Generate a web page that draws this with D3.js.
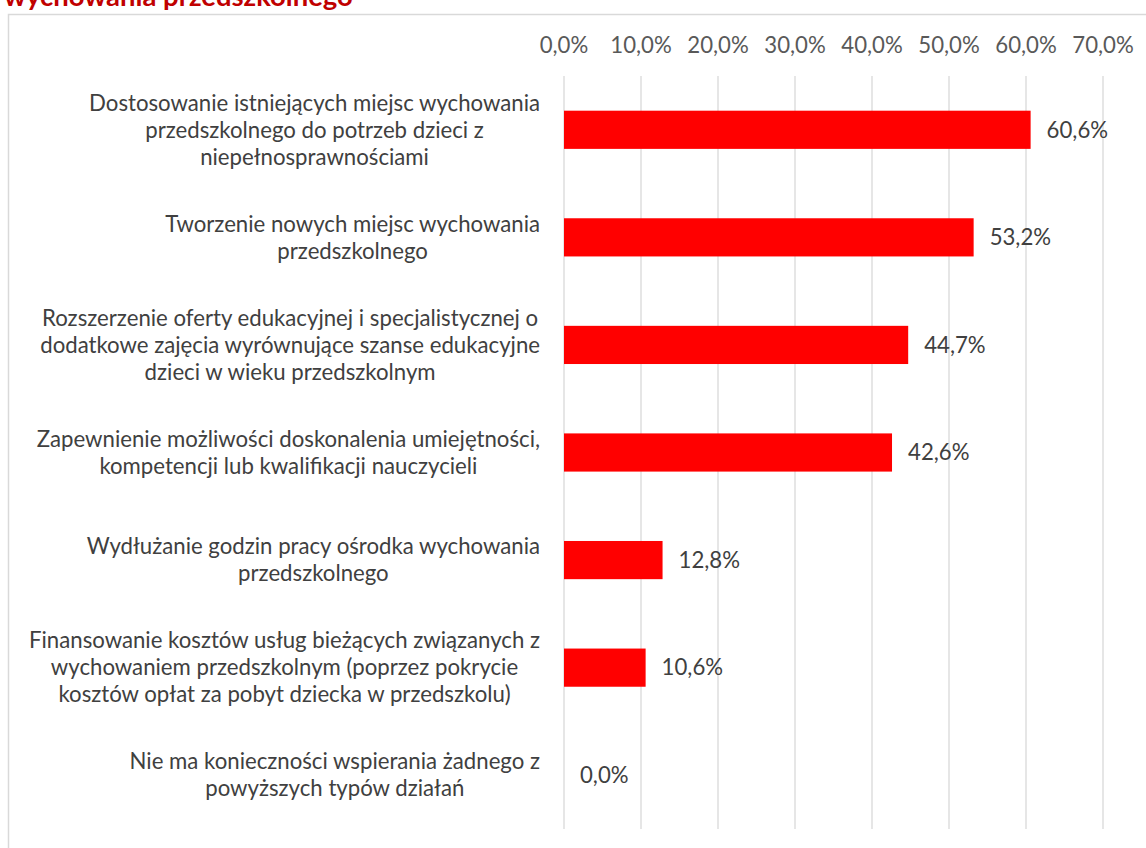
<!DOCTYPE html>
<html>
<head>
<meta charset="utf-8">
<script src="https://cdn.jsdelivr.net/npm/d3@7"></script>
<style>
  html, body { margin: 0; padding: 0; background: #fff; }
  svg { display: block; }
</style>
</head>
<body>
<div id="chart"></div>
<script>
// Data
const titleText = 'wychowania przedszkolnego';
const categories = [
    ['Dostosowanie istniejących miejsc wychowania', 'przedszkolnego do potrzeb dzieci z', 'niepełnosprawnościami'],
    ['Tworzenie nowych miejsc wychowania', 'przedszkolnego'],
    ['Rozszerzenie oferty edukacyjnej i specjalistycznej o', 'dodatkowe zajęcia wyrównujące szanse edukacyjne', 'dzieci w wieku przedszkolnym'],
    ['Zapewnienie możliwości doskonalenia umiejętności,', 'kompetencji lub kwalifikacji nauczycieli'],
    ['Wydłużanie godzin pracy ośrodka wychowania', 'przedszkolnego'],
    ['Finansowanie kosztów usług bieżących związanych z', 'wychowaniem przedszkolnym (poprzez pokrycie', 'kosztów opłat za pobyt dziecka w przedszkolu)'],
    ['Nie ma konieczności wspierania żadnego z', 'powyższych typów działań']
];
const values = [60.6, 53.2, 44.7, 42.6, 12.8, 10.6, 0.0];
const tickValues = [0, 10, 20, 30, 40, 50, 60, 70];

const W = 1146, H = 848;
const fontFamily = 'Lato, "Open Sans", sans-serif';

const svg = d3.select('#chart')
    .append('svg')
    .attr('width', W)
    .attr('height', H);

// Fit a font size so a text gets the width seen in the picture
function fitSize(str, target, weight) {
    const probe = svg.append('text')
        .attr('font-family', fontFamily)
        .attr('font-weight', weight || 'normal')
        .attr('font-size', 18)
        .text(str);
    const w = probe.node().getComputedTextLength();
    probe.remove();
    return 18 * target / w;
}
const fs = fitSize(categories[0][0], 451);
const titleFs = fitSize(titleText, 349, 'bold');

// Frame
svg.append('rect')
    .attr('x', 8.5).attr('y', 14.5)
    .attr('width', W + 10).attr('height', H + 10)
    .attr('fill', 'none')
    .attr('stroke', '#d9d9d9')
    .attr('stroke-width', 1.5);

// Title (its top is cut by the page edge, as in the picture)
svg.append('text')
    .attr('x', 4).attr('y', 6)
    .attr('font-family', fontFamily)
    .attr('font-weight', 'bold')
    .attr('font-size', titleFs)
    .attr('fill', '#c00000')
    .text(titleText);

const x = d3.scaleLinear().domain([0, 70]).range([564, 1103]);
const y = d3.scaleBand()
    .domain(d3.range(categories.length))
    .range([76, 829])
    .paddingInner(0.645)
    .paddingOuter(0.3225);

// Gridlines
svg.append('g')
    .selectAll('line')
    .data(tickValues)
    .join('line')
    .attr('x1', d => x(d)).attr('x2', d => x(d))
    .attr('y1', 76).attr('y2', 829)
    .attr('stroke', '#d9d9d9')
    .attr('stroke-width', 1.3);

// Top axis labels
const fmt = d => d.toFixed(1).replace('.', ',') + '%';
svg.append('g')
    .selectAll('text')
    .data(tickValues)
    .join('text')
    .attr('x', d => x(d))
    .attr('y', 45)
    .attr('dy', '0.35em')
    .attr('text-anchor', 'middle')
    .attr('font-family', fontFamily)
    .attr('font-size', fs)
    .attr('fill', '#595959')
    .text(fmt);

// Bars
svg.append('g')
    .selectAll('rect')
    .data(values)
    .join('rect')
    .attr('x', x(0))
    .attr('y', (d, i) => y(i))
    .attr('width', d => x(d) - x(0))
    .attr('height', y.bandwidth())
    .attr('fill', '#ff0000');

// Value labels
svg.append('g')
    .selectAll('text')
    .data(values)
    .join('text')
    .attr('x', d => x(d) + 16)
    .attr('y', (d, i) => y(i) + y.bandwidth() / 2)
    .attr('dy', '0.35em')
    .attr('font-family', fontFamily)
    .attr('font-size', fs)
    .attr('fill', '#404040')
    .text(fmt);

// Category labels: lines centred with each other, block right-aligned at the axis
const lineH = 27;
const labelG = svg.append('g');
categories.forEach((lines, i) => {
    const cy = y(i) + y.bandwidth() / 2;
    const t = labelG.append('text')
        .attr('font-family', fontFamily)
        .attr('font-size', fs)
        .attr('fill', '#404040')
        .attr('text-anchor', 'middle');
    lines.forEach((ln, j) => {
        t.append('tspan')
            .attr('x', 0)
            .attr('y', cy + (j - (lines.length - 1) / 2) * lineH)
            .attr('dy', '0.35em')
            .text(ln);
    });
    const maxW = d3.max(t.selectAll('tspan').nodes(), n => n.getComputedTextLength());
    t.selectAll('tspan').attr('x', 540 - maxW / 2);
});
</script>
</body>
</html>
